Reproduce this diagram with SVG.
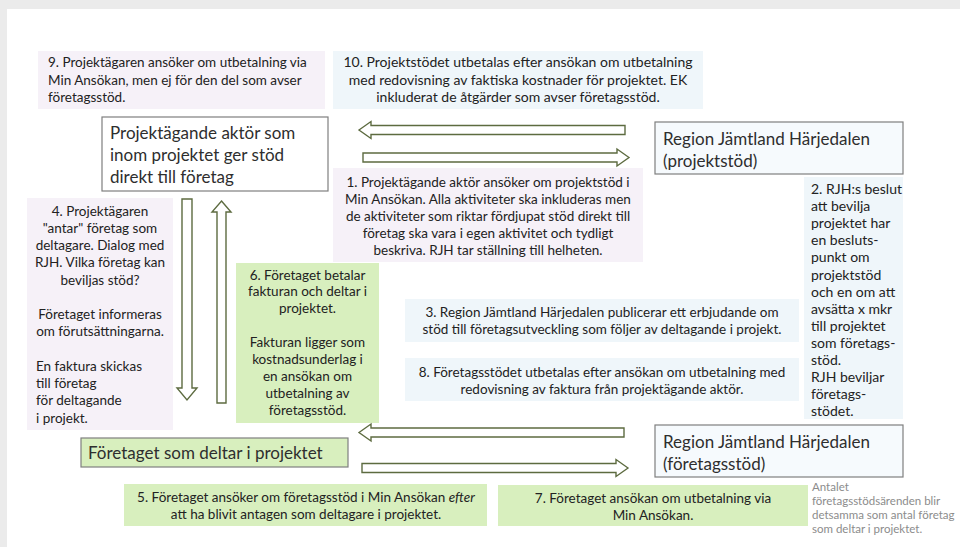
<svg xmlns="http://www.w3.org/2000/svg" width="960" height="547" viewBox="0 0 960 547">
<style>
.lav{fill:#f6f1f8}
.blu{fill:#eff6fa}
.grn{fill:#d8efbe}
.node{stroke:#7f7f7f;stroke-width:1.2}
.t{font-family:Lato,"Liberation Sans",sans-serif;font-size:13.5px;fill:#222222}
.t2{font-family:Lato,"Liberation Sans",sans-serif;font-size:14px;fill:#222222}
.c{text-anchor:middle}
.big{font-family:Lato,"Liberation Sans",sans-serif;font-size:17px;fill:#2e2e2e}
.note{font-family:Lato,"Liberation Sans",sans-serif;font-size:11.5px;fill:#8c8c8c}
.arr{fill:#ffffff;stroke:#5d6b40;stroke-width:1.4;stroke-linejoin:miter}
</style>
<rect x="0" y="0" width="960" height="547" fill="#ebebeb"/>
<rect x="7" y="9" width="953" height="538" fill="#ffffff"/>

<g id="box9">
<rect class="lav" x="38" y="51" width="287" height="58"/>
<text class="t" x="48" y="67">9. Projektägaren ansöker om utbetalning via</text>
<text class="t" x="48" y="84.5">Min Ansökan, men ej för den del som avser</text>
<text class="t" x="48" y="102">företagsstöd.</text>
</g>

<g id="box10">
<rect class="blu" x="333" y="51" width="370" height="58"/>
<text class="t2 c" x="518" y="67">10. Projektstödet utbetalas efter ansökan om utbetalning</text>
<text class="t2 c" x="518" y="84.5">med redovisning av faktiska kostnader för projektet. EK</text>
<text class="t2 c" x="518" y="102">inkluderat de åtgärder som avser företagsstöd.</text>
</g>

<g id="projektagare">
<rect class="node" x="102" y="117" width="226" height="74" fill="#ffffff"/>
<text class="big" x="110" y="139">Projektägande aktör som</text>
<text class="big" x="110" y="161">inom projektet ger stöd</text>
<text class="big" x="110" y="183">direkt till företag</text>
</g>

<g id="region-projektstod">
<rect class="node" x="655" y="122" width="248" height="52" fill="#f6fafd"/>
<text class="big" x="663" y="145">Region Jämtland Härjedalen</text>
<text class="big" x="663" y="167">(projektstöd)</text>
</g>

<g id="box1">
<rect class="lav" x="333" y="168" width="310" height="94"/>
<text class="t c" x="488" y="186.5">1. Projektägande aktör ansöker om projektstöd i</text>
<text class="t c" x="488" y="203.5">Min Ansökan. Alla aktiviteter ska inkluderas men</text>
<text class="t c" x="488" y="220.5">de aktiviteter som riktar fördjupat stöd direkt till</text>
<text class="t c" x="488" y="237.5">företag ska vara i egen aktivitet och tydligt</text>
<text class="t c" x="488" y="254.5">beskriva. RJH tar ställning till helheten.</text>
</g>

<g id="box2">
<rect class="blu" x="804" y="177" width="99" height="242"/>
<text class="t2" x="811" y="194">2. RJH:s beslut</text>
<text class="t2" x="811" y="211.1">att bevilja</text>
<text class="t2" x="811" y="228.2">projektet har</text>
<text class="t2" x="811" y="245.3">en besluts-</text>
<text class="t2" x="811" y="262.4">punkt om</text>
<text class="t2" x="811" y="279.5">projektstöd</text>
<text class="t2" x="811" y="296.6">och en om att</text>
<text class="t2" x="811" y="313.7">avsätta x mkr</text>
<text class="t2" x="811" y="330.8">till projektet</text>
<text class="t2" x="811" y="347.9">som företags-</text>
<text class="t2" x="811" y="365">stöd.</text>
<text class="t2" x="811" y="382.1">RJH beviljar</text>
<text class="t2" x="811" y="399.2">företags-</text>
<text class="t2" x="811" y="416.3">stödet.</text>
</g>

<g id="box4">
<rect class="lav" x="27" y="198" width="146" height="232"/>
<text class="t c" x="100" y="215.5">4. Projektägaren</text>
<text class="t c" x="100" y="232.75">"antar" företag som</text>
<text class="t c" x="100" y="250">deltagare. Dialog med</text>
<text class="t c" x="100" y="267.25">RJH. Vilka företag kan</text>
<text class="t c" x="100" y="284.5">beviljas stöd?</text>
<text class="t c" x="100" y="319">Företaget informeras</text>
<text class="t c" x="100" y="336.25">om förutsättningarna.</text>
<text class="t" x="36" y="370.75">En faktura skickas</text>
<text class="t" x="36" y="388">till företag</text>
<text class="t" x="36" y="405.25">för deltagande</text>
<text class="t" x="36" y="422.5">i projekt.</text>
</g>

<g id="box6">
<rect class="grn" x="236" y="263" width="143" height="160"/>
<text class="t c" x="307.5" y="279.5">6. Företaget betalar</text>
<text class="t c" x="307.5" y="296.4">fakturan och deltar i</text>
<text class="t c" x="307.5" y="313.3">projektet.</text>
<text class="t c" x="307.5" y="347.1">Fakturan ligger som</text>
<text class="t c" x="307.5" y="364">kostnadsunderlag i</text>
<text class="t c" x="307.5" y="380.9">en ansökan om</text>
<text class="t c" x="307.5" y="397.8">utbetalning av</text>
<text class="t c" x="307.5" y="414.7">företagsstöd.</text>
</g>

<g id="box3">
<rect class="blu" x="405" y="299" width="394" height="43"/>
<text class="t c" x="602" y="316.5">3. Region Jämtland Härjedalen publicerar ett erbjudande om</text>
<text class="t c" x="602" y="333.5">stöd till företagsutveckling som följer av deltagande i projekt.</text>
</g>

<g id="box8">
<rect class="blu" x="405" y="358" width="394" height="43"/>
<text class="t c" x="602" y="376.5">8. Företagsstödet utbetalas efter ansökan om utbetalning med</text>
<text class="t c" x="602" y="393.5">redovisning av faktura från projektägande aktör.</text>
</g>

<g id="foretaget">
<rect class="node grn" x="81" y="438" width="267" height="29"/>
<text class="big" x="88" y="459">Företaget som deltar i projektet</text>
</g>

<g id="region-foretagsstod">
<rect class="node" x="655" y="425" width="248" height="52" fill="#f6fafd"/>
<text class="big" x="663" y="448">Region Jämtland Härjedalen</text>
<text class="big" x="663" y="470">(företagsstöd)</text>
</g>

<g id="box5">
<rect class="grn" x="124" y="484" width="363" height="42"/>
<text class="t c" x="306" y="501.5">5. Företaget ansöker om företagsstöd i Min Ansökan <tspan font-style="italic">efter</tspan></text>
<text class="t c" x="306" y="518.5">att ha blivit antagen som deltagare i projektet.</text>
</g>

<g id="box7">
<rect class="grn" x="498" y="485" width="310" height="41"/>
<text class="t c" x="653" y="502.5">7. Företaget ansökan om utbetalning via</text>
<text class="t c" x="653" y="519.5">Min Ansökan.</text>
</g>

<g id="note">
<text class="note" x="812" y="491">Antalet</text>
<text class="note" x="812" y="505">företagsstödsärenden blir</text>
<text class="note" x="812" y="519">detsamma som antal företag</text>
<text class="note" x="812" y="533">som deltar i projektet.</text>
</g>

<g id="connectors">
<path class="arr" d="M359,130 L371,121.5 L371,125.5 L625,125.5 L625,134.5 L371,134.5 L371,138.5 Z"/>
<path class="arr" d="M629,157.5 L617,149 L617,153 L363,153 L363,162 L617,162 L617,166 Z"/>
<path class="arr" d="M359,432.5 L371,424 L371,428 L624,428 L624,437 L371,437 L371,441 Z"/>
<path class="arr" d="M628,468 L616,459.5 L616,463.5 L362,463.5 L362,472.5 L616,472.5 L616,476.5 Z"/>
<path class="arr" d="M182,199 L192,199 L192,388 L197,388 L187,400 L177,388 L182,388 Z"/>
<path class="arr" d="M221.5,201 L231,212 L226,212 L226,403 L217,403 L217,212 L212,212 Z"/>
</g>
</svg>
